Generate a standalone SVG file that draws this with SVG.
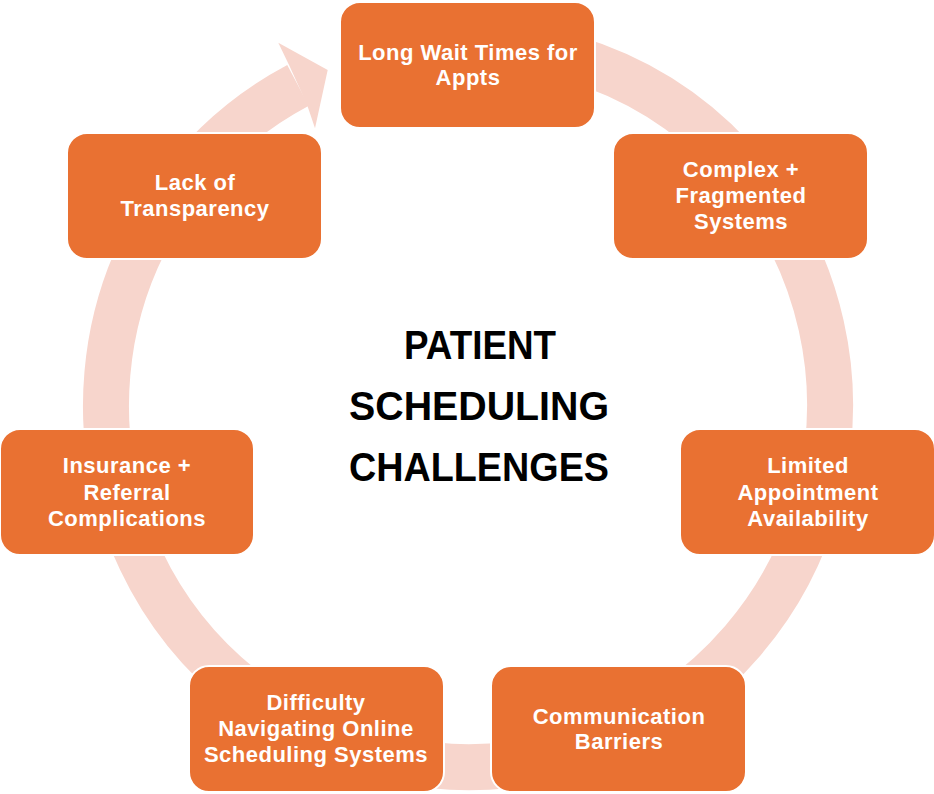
<svg xmlns="http://www.w3.org/2000/svg" width="934" height="794" viewBox="0 0 934 794">
<style>
.box{fill:#E97132;stroke:#FFFFFF;stroke-width:2}
.lbl{font-family:"Liberation Sans",Arial,sans-serif;font-weight:bold;font-size:22px;fill:#FFFFFF;text-anchor:middle;letter-spacing:0.5px}
.ttl{font-family:"Liberation Sans",Arial,sans-serif;font-weight:bold;font-size:40px;fill:#000000;text-anchor:middle}
.ring{fill:none;stroke:#F7D5CC;stroke-width:46}
</style>
<rect width="934" height="794" fill="#FFFFFF"/>
<g id="connectors">
<path class="ring" d="M405.1,48.5 A362,362 0 1 1 298.05,85.37"/>
<polygon fill="#F7D5CC" points="289.5,66 278.3,42.7 327.7,70 315,128.3 306.8,104"/>
</g>
<g id="title">
<text class="ttl" x="480" y="359" textLength="152" lengthAdjust="spacingAndGlyphs">PATIENT</text>
<text class="ttl" x="479" y="420" textLength="260" lengthAdjust="spacingAndGlyphs">SCHEDULING</text>
<text class="ttl" x="479" y="481" textLength="260" lengthAdjust="spacingAndGlyphs">CHALLENGES</text>
</g>
<g id="node1">
<rect class="box" x="340" y="2" width="255" height="126" rx="20"/>
<text class="lbl" x="468" y="60">Long Wait Times for</text>
<text class="lbl" x="468" y="85">Appts</text>
</g>
<g id="node2">
<rect class="box" x="613" y="133" width="255" height="126" rx="20"/>
<text class="lbl" x="741" y="177">Complex +</text>
<text class="lbl" x="741" y="203">Fragmented</text>
<text class="lbl" x="741" y="229">Systems</text>
</g>
<g id="node3">
<rect class="box" x="680" y="429" width="255" height="126" rx="20"/>
<text class="lbl" x="808" y="473">Limited</text>
<text class="lbl" x="808" y="499.5">Appointment</text>
<text class="lbl" x="808" y="526">Availability</text>
</g>
<g id="node4">
<rect class="box" x="491" y="666" width="255" height="126" rx="20"/>
<text class="lbl" x="619" y="724">Communication</text>
<text class="lbl" x="619" y="749">Barriers</text>
</g>
<g id="node5">
<rect class="box" x="189" y="666" width="255" height="126" rx="20"/>
<text class="lbl" x="316" y="710">Difficulty</text>
<text class="lbl" x="316" y="736">Navigating Online</text>
<text class="lbl" x="316" y="762">Scheduling Systems</text>
</g>
<g id="node6">
<rect class="box" x="0" y="429" width="254" height="126" rx="20"/>
<text class="lbl" x="127" y="473">Insurance +</text>
<text class="lbl" x="127" y="499.5">Referral</text>
<text class="lbl" x="127" y="526">Complications</text>
</g>
<g id="node7">
<rect class="box" x="67" y="133" width="255" height="126" rx="20"/>
<text class="lbl" x="195" y="190">Lack of</text>
<text class="lbl" x="195" y="216">Transparency</text>
</g>
</svg>
